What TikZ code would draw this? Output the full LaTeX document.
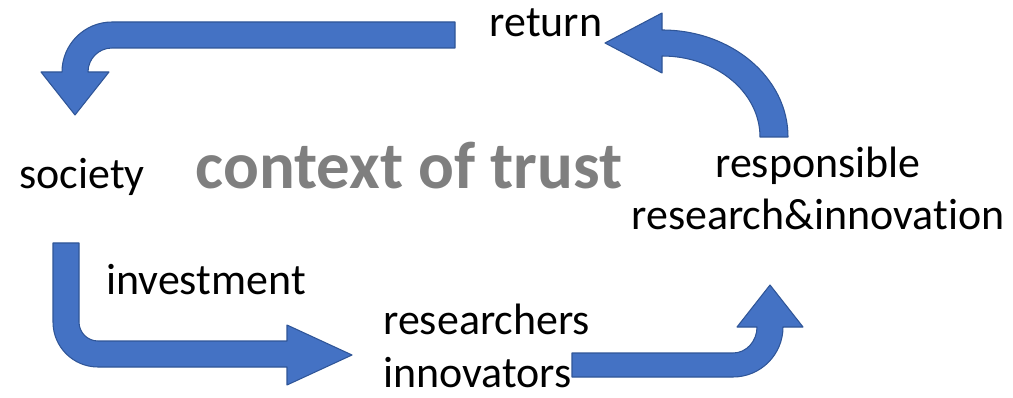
\documentclass[tikz,border=0pt]{standalone}
\usepackage{fontspec}
\setmainfont{Carlito}[Ligatures=NoCommon]
\usepackage{tikz}
\usetikzlibrary{positioning}
\definecolor{arrowblue}{RGB}{68,114,196}
\definecolor{arrowedge}{RGB}{47,85,151}
\definecolor{trustgray}{RGB}{127,127,127}
\tikzstyle{label} = [inner sep=0pt, font=\fontsize{25}{29.6}\selectfont, text=black]
\tikzstyle{bigarrow} = [fill=arrowblue, draw=arrowedge, line width=0.6pt, line join=round]

\begin{document}
\begin{tikzpicture}[x=0.02cm, y=-0.02cm]
\useasboundingbox (0,0) rectangle (1013,398);
% labels
\node (return) [label, anchor=base] at (546,37) {return};
\node (society) [label, anchor=base] at (82,189) {society};
\node (trust) [label, anchor=base, text=trustgray, font=\fontsize{38}{40}\selectfont\bfseries] at (409,189) {context of trust};
\node (rri) [label, align=center, anchor=base] at (818,230) {responsible\\research\&innovation};
\node (investment) [label, anchor=base] at (206,295) {investment};
\node (researchers) [label, align=left, anchor=base west] at (383,387) {researchers\\innovators};
% block arrows
\path [bigarrow] (455,22) -- (112,22) arc[start angle=-90, end angle=-180, radius=50]
  -- (41,72) -- (75,115) -- (109,72) -- (88,72)
  arc[start angle=-180, end angle=-90, radius=24] -- (455,48) -- cycle;
\path [bigarrow] (53,243) -- (53,322) arc[start angle=180, end angle=90, radius=45]
  -- (287,367) -- (287,385) -- (352,355) -- (287,325) -- (287,341) -- (98,341)
  arc[start angle=90, end angle=180, radius=19] -- (79,243) -- cycle;
\path [bigarrow] (572,353) -- (733,353) arc[start angle=90, end angle=0, x radius=24, y radius=26]
  -- (737,327) -- (770,285) -- (803,327) -- (783,327)
  arc[start angle=0, end angle=90, radius=50] -- (572,377) -- cycle;
\path [bigarrow] (760,137) -- (788,137) arc[start angle=0, end angle=-90, x radius=126, y radius=107]
  -- (662,13) -- (605,43) -- (662,73) -- (662,56)
  arc[start angle=-90, end angle=0, x radius=98, y radius=81] -- cycle;
\end{tikzpicture}
\end{document}
